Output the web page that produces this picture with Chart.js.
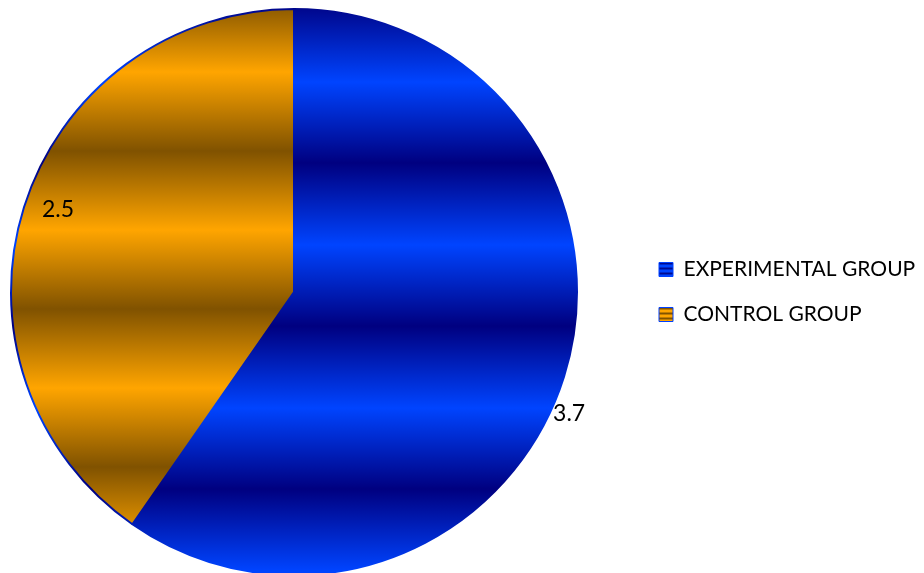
<!DOCTYPE html>
<html>
<head>
<meta charset="utf-8">
<script src="https://cdn.jsdelivr.net/npm/chart.js@4/dist/chart.umd.min.js"></script>
<style>
  html, body { margin: 0; padding: 0; background: #fff; overflow: hidden; }
  #wrap { position: absolute; left: -47px; top: 0; width: 971px; height: 573px; }
</style>
</head>
<body>
<div id="wrap"><canvas id="groupChart"></canvas></div>
<script>
// values
const groups = ['EXPERIMENTAL GROUP', 'CONTROL GROUP'];
const scores = [3.7, 2.5];

// horizontal colour bands (y in px, colour), like the office "gradient" fill
const blueBands = [[0, '#000080'], [82, '#0044ff'], [163, '#000080'], [245, '#0044ff'],
                   [326, '#000080'], [408, '#0044ff'], [489, '#000080'], [571, '#0044ff']];
const orangeBands = [[0, '#805200'], [72, '#ffa500'], [151, '#805200'], [230, '#ffa500'],
                     [309, '#805200'], [388, '#ffa500'], [467, '#805200'], [546, '#ffa500']];

function bandGradient(chart, bands) {
    const h = chart.height;
    const g = chart.ctx.createLinearGradient(0, 0, 0, h);
    bands.forEach(([y, c]) => g.addColorStop(Math.min(y / h, 1), c));
    return g;
}

// small striped swatch for the legend boxes
function stripes(light, mid, dark) {
    const c = document.createElement('canvas');
    c.width = 1; c.height = 5;
    const x = c.getContext('2d');
    [light, light, mid, dark, mid].forEach((col, i) => { x.fillStyle = col; x.fillRect(0, i, 1, 1); });
    return x.createPattern(c, 'repeat');
}
const swatches = [stripes('#0044ff', '#0028c8', '#000a90'), stripes('#ffa500', '#c07c00', '#805200')];

// value labels next to / inside the slices
const sliceLabels = {
    id: 'sliceLabels',
    afterDatasetsDraw(chart, args, opts) {
        const ctx = chart.ctx;
        const meta = chart.getDatasetMeta(0);
        ctx.save();
        ctx.font = opts.font;
        ctx.fillStyle = opts.color;
        ctx.textAlign = 'center';
        ctx.textBaseline = 'middle';
        meta.data.forEach((arc, i) => {
            const p = arc.getProps(['x', 'y', 'startAngle', 'endAngle', 'outerRadius'], true);
            const spot = opts.place[i];
            const a = (p.startAngle + p.endAngle) / 2 + spot.turn * Math.PI / 180;
            const r = p.outerRadius + spot.shift;
            ctx.fillText(String(chart.data.datasets[0].data[i]), p.x + Math.cos(a) * r, p.y + Math.sin(a) * r);
        });
        ctx.restore();
    }
};

const ctx = document.getElementById('groupChart').getContext('2d');

const groupChart = new Chart(ctx, {
    type: 'pie',
    data: {
        labels: groups,
        datasets: [{
            data: scores,
            radius: 283,
            backgroundColor: (c) => bandGradient(c.chart, c.dataIndex === 0 ? blueBands : orangeBands),
            borderColor: (c) => bandGradient(c.chart, blueBands),
            borderWidth: 2
        }]
    },
    options: {
        responsive: true,
        maintainAspectRatio: false,
        animation: false,
        events: [],
        layout: { padding: { top: 11, bottom: 0, left: 0, right: 0 } },
        plugins: {
            tooltip: { enabled: false },
            legend: {
                position: 'right',
                maxWidth: 289,
                labels: {
                    boxWidth: 14,
                    boxHeight: 14,
                    padding: 24,
                    color: '#000',
                    font: { family: 'Lato', size: 21 },
                    generateLabels: (chart) => chart.data.labels.map((t, i) => ({
                        text: t,
                        fillStyle: swatches[i],
                        strokeStyle: '#0040ff',
                        lineWidth: 1,
                        fontColor: '#000',
                        hidden: false,
                        index: i
                    }))
                }
            },
            sliceLabels: {
                font: '23px Lato',
                color: '#000',
                place: [{ shift: 18, turn: 6.5 }, { shift: -33, turn: 1.9 }]
            }
        }
    },
    plugins: [sliceLabels]
});
</script>
</body>
</html>
